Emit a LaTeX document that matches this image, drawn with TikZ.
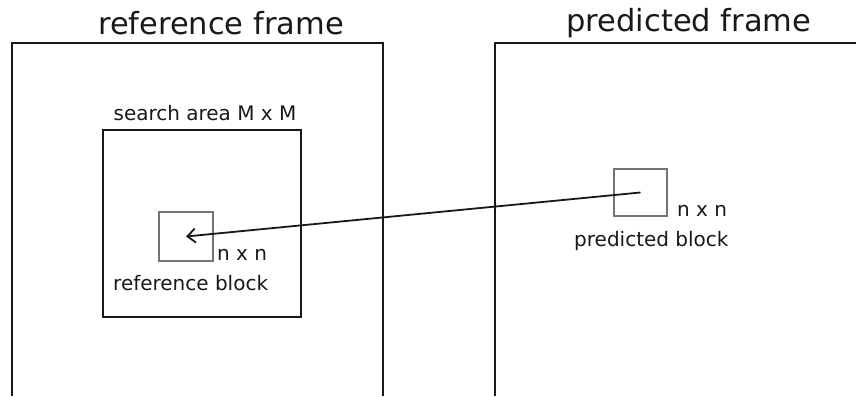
\documentclass[tikz,border=0pt]{standalone}
\usepackage{fontspec}
\setmainfont{DejaVu Sans}
\usetikzlibrary{arrows.meta}
\begin{document}
\begin{tikzpicture}[x=1pt,y=1pt,
  frameline/.style={line width=2.2pt,black!90},
  blockbox/.style={draw=black!55,line width=1.3pt,inner sep=0pt},
  areabox/.style={draw=black!90,line width=2.2pt,inner sep=0pt},
  title/.style={font=\fontsize{30.5}{32}\selectfont,inner sep=0pt,text=black!90},
  lbl/.style={font=\fontsize{20}{22}\selectfont,inner sep=0pt,text=black!90},
  mv/.style={line width=1.8pt,black!90,-{Straight Barb[length=8pt,width=14pt]}}]
\useasboundingbox (0,0) rectangle (856,396);
\fill[white] (0,0) rectangle (856,396);
% frames
\draw[frameline] (12,0) -- (12,353) -- (383,353) -- (383,0);
\draw[frameline] (495,0) -- (495,353) -- (858,353);
\node[title,anchor=base] (t1) at (221,361) {reference frame};
\node[title,anchor=base] (t2) at (689,364) {predicted frame};
% search area
\node[areabox,minimum width=198pt,minimum height=187pt] (sa) at (202,172.5) {};
\node[lbl,anchor=base] (salbl) at (205,275) {search area M x M};
% reference block
\node[blockbox,minimum width=54pt,minimum height=49pt] (rb) at (186,159.5) {};
\node[lbl,anchor=base west] (rbn) at (217,135) {n x n};
\node[lbl,anchor=base west] (rbl) at (113,105) {reference block};
% predicted block
\node[blockbox,minimum width=53pt,minimum height=47pt] (pb) at (640.5,203.5) {};
\node[lbl,anchor=base west] (pbn) at (677,179) {n x n};
\node[lbl,anchor=base west] (pbl) at (574,149) {predicted block};
% motion vector
\draw[mv] (pb.center) -- (rb.center);
\end{tikzpicture}
\end{document}
